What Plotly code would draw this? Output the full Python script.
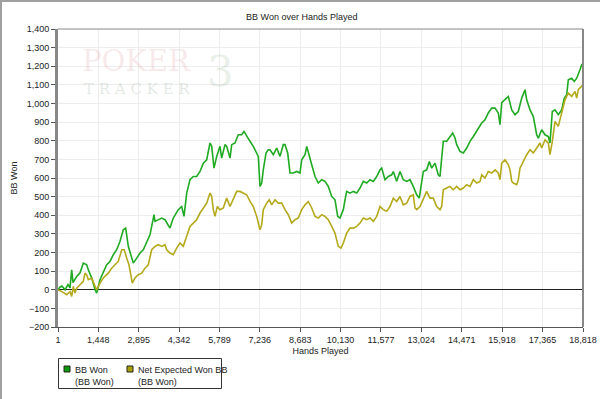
import plotly.graph_objects as go

# ---------------- data ----------------
bb_won_hands = [1, 73, 144, 252, 359, 431, 492, 539, 671, 790, 908, 1030, 1087, 1209, 1329, 1388,
                1506, 1625, 1746, 1864, 1983, 2105, 2224, 2341, 2427, 2521, 2700, 2822, 2940, 3058,
                3180, 3298, 3359, 3442, 3478, 3596, 3718, 3836, 4015, 4133, 4313, 4434, 4517, 4614,
                4732, 4850, 4972, 5091, 5209, 5331, 5449, 5510, 5592, 5689, 5807, 5868, 5986, 6047,
                6166, 6227, 6345, 6463, 6585, 6668, 6764, 6883, 7001, 7123, 7180, 7241, 7302, 7359,
                7456, 7539, 7599, 7718, 7840, 7958, 8076, 8137, 8234, 8317, 8435, 8557, 8675, 8736,
                8855, 8916, 8973, 9095, 9213, 9331, 9453, 9571, 9689, 9811, 9929, 10026, 10108,
                10227, 10288, 10348, 10467, 10585, 10707, 10825, 10943, 11065, 11184, 11302, 11424,
                11542, 11603, 11721, 11840, 11961, 12019, 12140, 12259, 12377, 12499, 12617, 12735,
                12857, 12950, 13036, 13094, 13215, 13309, 13395, 13513, 13631, 13693, 13753, 13811,
                13933, 14051, 14148, 14231, 14291, 14410, 14528, 14650, 14768, 14887, 15008, 15127,
                15188, 15306, 15424, 15546, 15665, 15783, 15843, 15904, 16023, 16141, 16202, 16263,
                16381, 16499, 16621, 16739, 16800, 16919, 17037, 17098, 17159, 17216, 17338, 17456,
                17575, 17635, 17718, 17814, 17933, 18055, 18148, 18234, 18291, 18413, 18506, 18592,
                18649, 18710, 18771, 18818]
bb_won = [0, 15, 20, 0, 28, 10, 107, 38, 71, 91, 143, 134, 107, 64, 0, -18,
          54, 91, 134, 152, 188, 215, 260, 322, 331, 233, 143, 170, 197, 215,
          260, 295, 340, 403, 367, 376, 385, 376, 331, 385, 430, 447, 394, 519,
          591, 608, 608, 635, 680, 698, 788, 770, 653, 716, 770, 707, 779, 770,
          707, 779, 788, 832, 832, 850, 823, 797, 770, 734, 716, 555, 573, 644,
          734, 752, 752, 725, 761, 716, 779, 779, 734, 627, 627, 635, 627, 698,
          725, 770, 734, 671, 608, 573, 591, 582, 555, 501, 483, 394, 385,
          430, 483, 528, 519, 528, 519, 546, 582, 573, 591, 582, 608,
          644, 653, 591, 608, 617, 635, 582, 635, 591, 582, 591, 555,
          510, 492, 564, 635, 644, 689, 653, 680, 617, 608, 707, 797,
          797, 823, 841, 815, 779, 743, 734, 761, 797, 823, 850, 880,
          895, 913, 949, 975, 975, 949, 886, 1005, 1020, 1038, 1002, 966,
          940, 957, 1029, 1074, 1020, 966, 930, 877, 832, 814, 859, 832,
          823, 788, 957, 966, 940, 966, 1029, 1047, 1127, 1136, 1118, 1136,
          1154, 1181, 1208, 1215]

net_ev_hands = [1, 144, 313, 431, 492, 549, 610, 671, 790, 908, 970, 1030, 1087, 1209, 1329, 1388,
                1506, 1625, 1804, 1926, 2044, 2162, 2284, 2377, 2463, 2545, 2664, 2760, 2879, 3001,
                3119, 3237, 3359, 3478, 3596, 3718, 3836, 3897, 4015, 4133, 4255, 4373, 4492, 4614,
                4732, 4850, 4972, 5091, 5209, 5331, 5449, 5510, 5567, 5628, 5711, 5807, 5925, 6047,
                6166, 6284, 6406, 6524, 6642, 6764, 6883, 7001, 7123, 7241, 7302, 7359, 7481, 7574,
                7660, 7779, 7897, 8019, 8137, 8255, 8377, 8496, 8614, 8736, 8855, 8973, 9095, 9213,
                9331, 9453, 9571, 9689, 9811, 9929, 10047, 10144, 10227, 10348, 10467, 10585, 10707,
                10825, 10943, 11065, 11184, 11302, 11424, 11542, 11660, 11782, 11900, 12019, 12140,
                12259, 12377, 12499, 12617, 12735, 12796, 12857, 12975, 13094, 13215, 13334, 13452,
                13574, 13693, 13753, 13811, 13933, 14051, 14170, 14291, 14410, 14528, 14650, 14768,
                14887, 15008, 15127, 15188, 15306, 15424, 15546, 15665, 15783, 15843, 15904, 16023,
                16141, 16202, 16263, 16320, 16442, 16499, 16560, 16678, 16800, 16919, 17037, 17159,
                17276, 17338, 17456, 17575, 17635, 17718, 17814, 17933, 18055, 18173, 18291, 18413,
                18531, 18592, 18649, 18771, 18818]
net_ev = [0, -10, -27, -10, -36, 18, -18, 9, 27, 45, 89, 80, 54, 63, 18, 0,
          36, 63, 89, 116, 134, 152, 215, 215, 170, 134, 36, 63, 81, 89,
          116, 134, 215, 233, 242, 233, 242, 215, 197, 188, 224, 251, 233, 286,
          340, 358, 376, 412, 439, 465, 519, 501, 430, 394, 447, 430, 439, 492,
          447, 483, 528, 528, 519, 510, 474, 447, 394, 322, 349, 430, 465, 483,
          456, 483, 465, 465, 430, 403, 358, 376, 385, 430, 456, 474, 439, 394,
          385, 403, 394, 376, 340, 304, 233, 224, 251, 304, 331, 331, 340,
          358, 385, 376, 385, 367, 394, 447, 430, 421, 447, 492, 474,
          501, 456, 465, 501, 510, 439, 430, 447, 483, 528, 492, 492,
          447, 430, 447, 537, 546, 555, 537, 555, 537, 546, 564, 555,
          591, 573, 582, 617, 600, 635, 627, 644, 627, 591, 680, 698,
          671, 644, 582, 573, 564, 591, 653, 689, 725, 752, 734, 761,
          788, 761, 805, 788, 725, 797, 904, 877, 957, 1020, 1056, 1038,
          1065, 1029, 1074, 1092, 1100]

x_tick_vals = [1, 1448, 2895, 4342, 5789, 7236, 8683, 10130, 11577, 13024, 14471, 15918, 17365, 18818]
x_tick_text = ["1", "1,448", "2,895", "4,342", "5,789", "7,236", "8,683", "10,130", "11,577",
               "13,024", "14,471", "15,918", "17,365", "18,818"]

series_names = ["BB Won<br>(BB Won)", "Net Expected Won BB<br>(BB Won)"]
line_colors = ["#1faa22", "#b4a91a"]
legend_colors = ["#0a9a0a", "#a8a000"]

FONT = "Liberation Sans, Arial, sans-serif"
PW, PH = 525.0, 298.0   # plot area size in px (for paper-coordinate placement)

def px_x(px):   # figure pixel x -> paper x
    return (px - 58) / PW

def px_y(py):   # figure pixel y -> paper y
    return (327 - py) / PH

fig = go.Figure()
fig.add_trace(go.Scatter(x=bb_won_hands, y=bb_won, mode="lines", name="BB Won",
                         line=dict(color=line_colors[0], width=1.6), showlegend=False))
fig.add_trace(go.Scatter(x=net_ev_hands, y=net_ev, mode="lines", name="Net Expected Won BB",
                         line=dict(color=line_colors[1], width=1.6), showlegend=False))

# watermark
fig.add_annotation(x=px_x(80), y=px_y(61), xref="paper", yref="paper",
                   text="POKER", showarrow=False, xanchor="left", yanchor="middle",
                   font=dict(family="DejaVu Serif, serif", size=29, color="rgba(210,120,120,0.16)"))
fig.add_annotation(x=px_x(82), y=px_y(89), xref="paper", yref="paper",
                   text="T R A C K E R", showarrow=False, xanchor="left", yanchor="middle",
                   font=dict(family="DejaVu Serif, serif", size=15, color="rgba(120,150,120,0.22)"))
fig.add_annotation(x=px_x(205), y=px_y(72), xref="paper", yref="paper",
                   text="3", showarrow=False, xanchor="left", yanchor="middle",
                   font=dict(family="DejaVu Serif, serif", size=42, color="rgba(120,160,120,0.18)"))

# legend drawn by hand (box, swatches, texts)
fig.add_shape(type="rect", xref="paper", yref="paper", x0=px_x(58.5), x1=px_x(221.5),
              y0=px_y(388.5), y1=px_y(358.5), line=dict(color="#333", width=1),
              fillcolor="white")
for (sx, tx), name, col in zip([(64, 73), (127, 136)], series_names, legend_colors):
    fig.add_shape(type="rect", xref="paper", yref="paper", x0=px_x(sx), x1=px_x(sx + 6),
                  y0=px_y(372), y1=px_y(366), line=dict(color="#222", width=1), fillcolor=col)
    fig.add_annotation(x=px_x(tx), y=px_y(363), xref="paper", yref="paper", text=name,
                       showarrow=False, xanchor="left", yanchor="top", align="left",
                       font=dict(size=9, color="#222"))

# outer frame (top and left edges)
fig.add_shape(type="line", xref="paper", yref="paper", x0=px_x(0), x1=px_x(600),
              y0=px_y(1), y1=px_y(1), line=dict(color="#a0a0a0", width=2))
fig.add_shape(type="line", xref="paper", yref="paper", x0=px_x(1), x1=px_x(1),
              y0=px_y(399), y1=px_y(0), line=dict(color="#a0a0a0", width=2))

fig.update_layout(
    width=600, height=399,
    margin=dict(l=58, r=17, t=29, b=72, autoexpand=False),
    paper_bgcolor="white", plot_bgcolor="white",
    font=dict(family=FONT, size=9, color="#222"),
    title=dict(text="BB Won over Hands Played", x=0.503, xanchor="center",
               y=1-17/399, yanchor="middle", font=dict(size=9, color="#222")),
    showlegend=False,
    xaxis=dict(range=[1, 18818], tickvals=x_tick_vals, ticktext=x_tick_text,
               showgrid=True, gridcolor="#ededed", gridwidth=1, automargin=False,
               showline=True, linecolor="#555", linewidth=1, mirror=False,
               ticks="outside", ticklen=4, tickcolor="#555",
               title=dict(text="Hands Played", standoff=3, font=dict(size=9)),
               zeroline=False),
    yaxis=dict(range=[-200, 1400], dtick=100, tickformat=",", automargin=False,
               showgrid=True, gridcolor="#ededed", gridwidth=1,
               showline=True, linecolor="#888", linewidth=3, mirror=False,
               ticks="outside", ticklen=4, tickcolor="#555",
               zeroline=True, zerolinecolor="#222", zerolinewidth=1,
               title=dict(text="BB Won", standoff=8, font=dict(size=9))),
)
# top and right plot-frame lines
fig.add_shape(type="line", xref="paper", yref="paper", x0=0, x1=1, y0=1, y1=1,
              line=dict(color="#888", width=1))
fig.add_shape(type="line", xref="paper", yref="paper", x0=1, x1=1, y0=0, y1=1,
              line=dict(color="#888", width=2))

# remove the default page margin so the 600x399 figure sits at the window origin
fig.write_html("out.html", config={"displayModeBar": False},
               post_script="document.body.style.margin='0';document.body.style.overflow='hidden';")
